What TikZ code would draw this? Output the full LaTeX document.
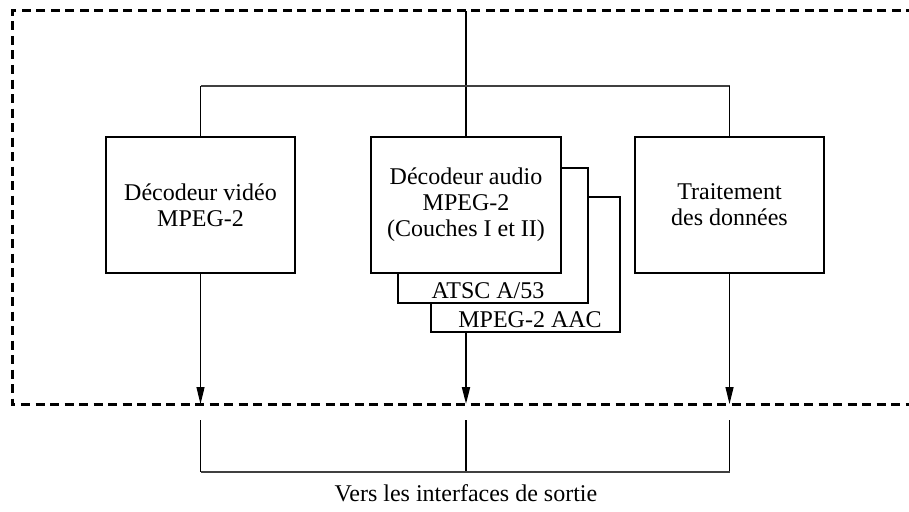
\documentclass[tikz,border=0pt]{standalone}
\usepackage{fontspec}
\setmainfont{Liberation Serif}
\usetikzlibrary{arrows.meta}
\begin{document}
\begin{tikzpicture}[x=1pt,y=-1pt,
  box/.style={draw,line width=2.2pt,fill=white,inner sep=0pt,align=center,
    font=\fontsize{24}{26}\selectfont},
  lbl/.style={inner sep=0pt,font=\fontsize{24}{26}\selectfont},
  thin/.style={line width=1.2pt},
  thick2/.style={line width=2pt},
  arr/.style={-{Triangle[length=17pt,width=8pt]}},
  frame/.style={line width=3pt,dash pattern=on 9pt off 5.5pt}]
\useasboundingbox (0,0) rectangle (909,511);
\clip (0,0) rectangle (909,511);
% dashed frame (open to the right)
\draw[frame] (915,11) -- (12,11) -- (12,404) -- (915,404);
% boxes
\node[box,minimum width=189pt,minimum height=135pt] (aac) at (525.5,264.5) {};
\node[box,minimum width=190pt,minimum height=135pt] (atsc) at (493,235.5) {};
\node[box,minimum width=189pt,minimum height=136pt] (video) at (200.5,205) {Décodeur vidéo\\MPEG-2};
\node[box,minimum width=190pt,minimum height=136pt] (audio) at (466,205) {Décodeur audio\\MPEG-2\\(Couches I et II)};
\node[box,minimum width=189pt,minimum height=136pt] (data) at (729.5,205) {Traitement\\des données};
\node[lbl] (tatsc) at (488,291) {ATSC A/53};
\node[lbl] (taac) at (530,320) {MPEG-2 AAC};
% top distribution
\coordinate (top) at (466,11);
\coordinate (hl) at (200.5,86);
\coordinate (hr) at (729.5,86);
\draw[thick2] (top) -- (audio.north);
\draw[line width=1.5pt,black!75] (hl) -- (hr);
\draw[thin] (hl) -- (video.north);
\draw[thin] (hr) -- (data.north);
% outputs
\coordinate (e1) at (200.5,404);
\coordinate (e2) at (466,404);
\coordinate (e3) at (729.5,404);
\draw[thin,arr] (video.south) -- (e1);
\draw[thick2,arr] (466,332) -- (e2);
\draw[thin,arr] (data.south) -- (e3);
% lower bus
\coordinate (s1) at (200.5,420);
\coordinate (s2) at (466,420);
\coordinate (s3) at (729.5,420);
\coordinate (b1) at (200.5,472);
\coordinate (b2) at (466,472);
\coordinate (b3) at (729.5,472);
\draw[thin] (s1) -- (b1);
\draw[thin] (s2) -- (b2);
\draw[thin] (s3) -- (b3);
\draw[line width=1.5pt,black!75] (b1) -- (b3);
\node[lbl] (out) at (466,493) {Vers les interfaces de sortie};
\end{tikzpicture}
\end{document}
